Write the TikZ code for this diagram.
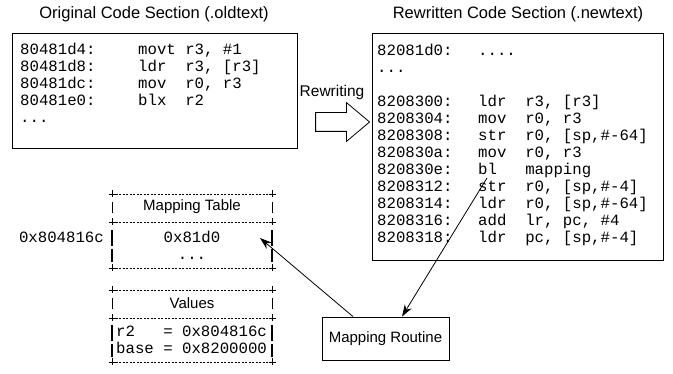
\documentclass[tikz,border=0pt]{standalone}
\usepackage{fontspec}
\setmainfont{Liberation Sans}
\setmonofont{Liberation Mono}
\usetikzlibrary{shapes.arrows,arrows.meta}
\tikzset{
  sans/.style={font=\fontsize{15}{18}\selectfont, inner sep=0pt},
  ttl/.style={font=\fontsize{16.5}{19}\selectfont, inner sep=0pt},
  code/.style={font=\ttfamily\fontsize{15.7}{17}\selectfont, anchor=base west, inner sep=0pt},
  ctr/.style={font=\ttfamily\fontsize{15.7}{17}\selectfont, anchor=base, inner sep=0pt},
  frame/.style={draw, line width=0.8pt, inner sep=0pt},
  dashl/.style={line width=0.6pt, dash pattern=on 2.2pt off 1.3pt},
  plusm/.style={line width=0.6pt},
  thinbar/.style={line width=0.6pt},
  thickbar/.style={line width=1.6pt},
  arr/.style={line width=0.8pt, -{Stealth[length=12pt,width=8pt]}}
}
\newcommand{\plusat}[2]{\draw[plusm] (#1-3.5,#2) -- (#1+3.5,#2) (#1,#2-3.5) -- (#1,#2+3.5);}
\begin{document}
\begin{tikzpicture}[x=1pt,y=-1pt]
\useasboundingbox (0,0) rectangle (673,374);

% titles
\node[ttl] (t1) at (154,14) {Original Code Section (.oldtext)};
\node[ttl] (t2) at (518,14) {Rewritten Code Section (.newtext)};

% old box
\node[frame, minimum width=285pt, minimum height=115pt, anchor=north west] (old) at (12,33) {};
\node[code] (oa1) at (20,55) {80481d4:};
\node[code] (om1) at (138,55) {movt~r3,~\#1};
\node[code] (oa2) at (20,72) {80481d8:};
\node[code] (om2) at (138,72) {ldr~~r3,~[r3]};
\node[code] (oa3) at (20,89) {80481dc:};
\node[code] (om3) at (138,89) {mov~~r0,~r3};
\node[code] (oa4) at (20,106) {80481e0:};
\node[code] (om4) at (138,106) {blx~~r2};
\node[code] (oa5) at (20,123) {...};

% rewriting arrow
\node[sans, font=\fontsize{15.5}{18}\selectfont] (rwl) at (332,92) {Rewriting};
\node[single arrow, draw, line width=0.8pt, minimum height=54pt, inner xsep=0pt, inner ysep=9pt,
      single arrow head extend=10pt, single arrow tip angle=80] (rw) at (337,122) {};

% new box
\node[frame, minimum width=291pt, minimum height=227pt, anchor=north west] (new) at (372,33) {};
\node[code] (na1) at (377,56) {82081d0:};
\node[code] (nm1) at (478,56) {....};
\node[code] (na2) at (377,73) {...};
\node[code] (na3) at (377,107) {8208300:};
\node[code] (nm3) at (478,107) {ldr~~r3,~[r3]};
\node[code] (na4) at (377,124) {8208304:};
\node[code] (nm4) at (478,124) {mov~~r0,~r3};
\node[code] (na5) at (377,141) {8208308:};
\node[code] (nm5) at (478,141) {str~~r0,~[sp,\#-64]};
\node[code] (na6) at (377,158) {820830a:};
\node[code] (nm6) at (478,158) {mov~~r0,~r3};
\node[code] (na7) at (377,175) {820830e:};
\node[code] (nm7) at (478,175) {bl~~~mapping};
\node[code] (na8) at (377,192) {8208312:};
\node[code] (nm8) at (478,192) {str~~r0,~[sp,\#-4]};
\node[code] (na9) at (377,209) {8208314:};
\node[code] (nm9) at (478,209) {ldr~~r0,~[sp,\#-64]};
\node[code] (na10) at (377,226) {8208316:};
\node[code] (nm10) at (478,226) {add~~lr,~pc,~\#4};
\node[code] (na11) at (377,243) {8208318:};
\node[code] (nm11) at (478,243) {ldr~~pc,~[sp,\#-4]};

% mapping table
\foreach \y in {194,222,268} {
  \draw[dashl] (112,\y) -- (272,\y);
  \plusat{112}{\y}\plusat{272}{\y}
}
\draw[thinbar] (112,202) -- (112,213) (272,202) -- (272,213);
\draw[thickbar] (112,230) -- (112,246) (112,249) -- (112,262)
                (272,230) -- (272,246) (272,249) -- (272,262);
\node[sans] (mth) at (192,207) {Mapping Table};
\node[ctr] (mt1) at (192,243) {0x81d0};
\node[ctr] (mt2) at (192,260) {...};
\node[code, anchor=base east] (addr) at (104,243) {0x804816c};

% values
\foreach \y in {290,318,362} {
  \draw[dashl] (112,\y) -- (272,\y);
  \plusat{112}{\y}\plusat{272}{\y}
}
\draw[thinbar] (112,298) -- (112,309) (272,298) -- (272,309);
\draw[thickbar] (112,325) -- (112,341) (112,344) -- (112,357)
                (272,325) -- (272,341) (272,344) -- (272,357);
\node[sans] (vh) at (192,303) {Values};
\node[code] (v1) at (116,337) {r2~~~=~0x804816c};
\node[code] (v2) at (116,354) {base~=~0x8200000};

% mapping routine
\node[frame, sans, minimum width=127pt, minimum height=43pt] (mr) at (385.5,338.5) {Mapping Routine};

% connectors
\coordinate (blpt) at (487,178);
\coordinate (mtin) at (260,238);
\draw[arr] (blpt) -- ([xshift=16.5pt]mr.north);
\draw[arr] ([xshift=-32.5pt]mr.north) -- (mtin);
\end{tikzpicture}
\end{document}
